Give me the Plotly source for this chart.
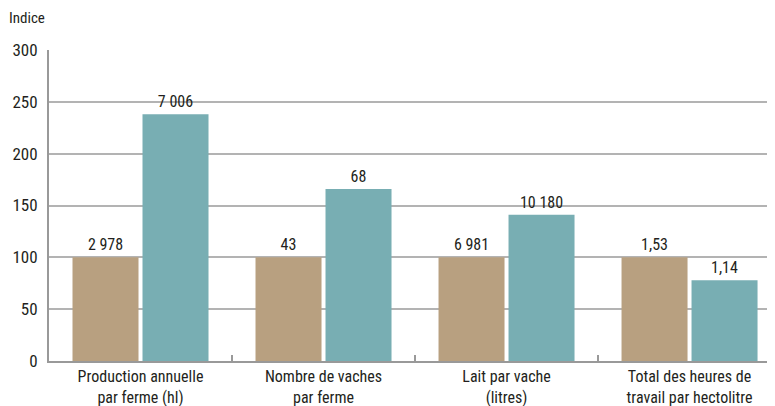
import plotly.graph_objects as go

categories = ["Production annuelle<br>par ferme (hl)", "Nombre de vaches<br>par ferme",
              "Lait par vache<br>(litres)", "Total des heures de<br>travail par hectolitre"]
index_before = [100, 100, 100, 100]
index_after = [238, 166, 141, 78]
labels_before = ["2 978", "43", "6 981", "1,53"]
labels_after = ["7 006", "68", "10 180", "1,14"]
y_ticks = [0, 50, 100, 150, 200, 250, 300]

FONT = "Roboto Condensed, DejaVu Sans Condensed, sans-serif"
TXT = "#231f20"

fig = go.Figure()
fig.add_trace(go.Bar(x=categories, y=index_before, text=labels_before, textposition="outside",
                     marker=dict(color="#b8a080", line=dict(width=0)), cliponaxis=False,
                     textfont=dict(family=FONT, size=16, color=TXT)))
fig.add_trace(go.Bar(x=categories, y=index_after, text=labels_after, textposition="outside",
                     marker=dict(color="#78aeb3", line=dict(width=0)), cliponaxis=False,
                     textfont=dict(family=FONT, size=16, color=TXT)))

# page body has an 8px margin: figure is sized so it ends at the window edge
fig.update_layout(
    width=767, height=398,
    margin=dict(l=41, r=0, t=42, b=45),
    paper_bgcolor="white", plot_bgcolor="white",
    barmode="group", bargap=0.235, bargroupgap=0.057,
    showlegend=False,
    font=dict(family=FONT, size=16, color=TXT),
    xaxis=dict(range=[-0.5, 3.467], showline=True, linecolor="#999999", linewidth=2,
               ticks="inside", tickson="boundaries", ticklen=6, tickwidth=2, tickcolor="#999999",
               showgrid=False, automargin=False, ticklabelstandoff=0,
               tickfont=dict(family=FONT, size=16, color=TXT)),
    yaxis=dict(range=[0, 300], tickvals=y_ticks, showline=True, linecolor="#999999", linewidth=2,
               showgrid=True, gridcolor="#b3b3b3", gridwidth=1.5, zeroline=False, automargin=False,
               ticks="", ticklabelstandoff=6, tickfont=dict(family=FONT, size=17, color=TXT)),
    annotations=[dict(text="Indice", xref="paper", yref="paper", x=0, y=1, xshift=-42, yshift=32,
                      xanchor="left", yanchor="middle", showarrow=False,
                      font=dict(family=FONT, size=15, color=TXT))],
)
fig.write_html("out.html")
